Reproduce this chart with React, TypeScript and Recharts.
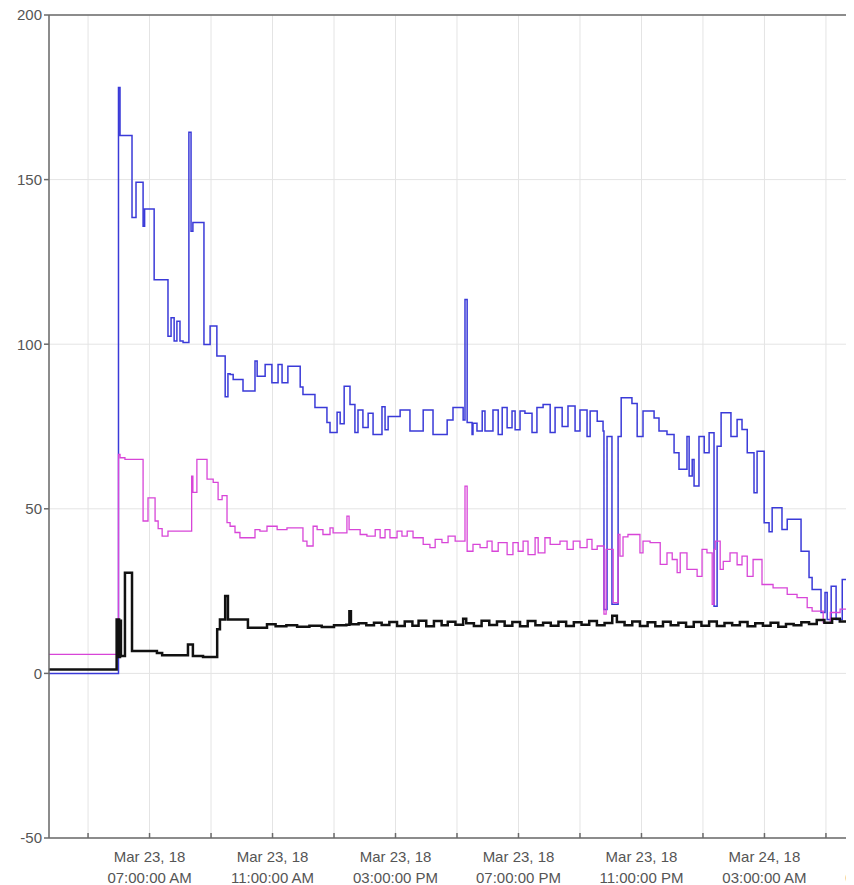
import React from 'react';
import { LineChart, Line, XAxis, YAxis, CartesianGrid } from 'recharts';

// time in hours since Mar 23, 2018 00:00
const blueT = [3.73, 5.99, 6.04, 6.43, 6.56, 6.79, 6.84, 7.15, 7.60, 7.70, 7.80, 7.89, 7.99, 8.09, 8.28, 8.35, 8.41, 8.77, 8.97, 9.19, 9.46, 9.55, 9.62, 9.72, 10.04, 10.43, 10.50, 10.76, 10.98, 11.18, 11.31, 11.50, 11.90, 11.99, 12.38, 12.77, 12.87, 13.10, 13.20, 13.33, 13.52, 13.68, 13.78, 13.94, 14.11, 14.27, 14.56, 14.66, 14.76, 15.15, 15.47, 15.90, 16.22, 16.68, 16.87, 17.20, 17.26, 17.33, 17.49, 17.52, 17.65, 17.82, 17.91, 18.17, 18.34, 18.47, 18.63, 18.79, 18.89, 19.05, 19.21, 19.44, 19.60, 19.80, 20.03, 20.19, 20.42, 20.61, 20.84, 21.00, 21.23, 21.33, 21.56, 21.75, 21.78, 21.88, 22.04, 22.24, 22.34, 22.69, 22.86, 23.05, 23.41, 23.57, 23.83, 24.06, 24.22, 24.48, 24.55, 24.65, 24.71, 24.87, 25.04, 25.20, 25.36, 25.46, 25.59, 25.91, 26.11, 26.27, 26.44, 26.66, 26.76, 26.99, 27.15, 27.25, 27.57, 27.74, 28.19, 28.45, 28.55, 28.84, 28.97, 29.04, 29.17, 29.33, 29.53, 29.69, 31.0];
const blueV = [0, 178, 163.4, 138.5, 149.2, 135.8, 141.1, 119.6, 102.4, 108, 101, 107, 101, 100.5, 164.4, 134.3, 137, 99.9, 105.5, 96.4, 84, 91, 90.8, 89.3, 85.8, 94.9, 90.3, 93.8, 88.3, 93.8, 88.3, 93.3, 87, 84.7, 80.8, 76.2, 73.2, 79.3, 75.8, 87.2, 81.7, 73.2, 80, 74.7, 79, 72.6, 81, 74, 78, 80, 73.6, 80, 72.6, 77, 80.8, 77, 113.6, 76.2, 72.6, 76, 73.6, 79.7, 73.6, 80, 72.6, 80.8, 74.6, 79.7, 74, 79.7, 79, 73.2, 80.8, 81.7, 73.2, 80.8, 75, 81.2, 73.6, 80, 72, 79.7, 76.6, 73.6, 19.4, 72, 21, 72, 83.7, 82, 72, 79.7, 77.6, 73.6, 72.6, 67, 62, 72, 60, 65, 56.9, 72, 67, 73.1, 20.4, 69, 79.2, 72, 77.1, 74.1, 67, 54.9, 67.5, 45.8, 43, 50.3, 43.7, 46.8, 37.1, 29.1, 25.5, 18.5, 24.6, 16.4, 26.5, 16.4, 28.5, 17.6, 17.6];

const magentaT = [3.73, 5.99, 6.04, 6.20, 6.79, 6.95, 7.18, 7.28, 7.41, 7.60, 8.37, 8.41, 8.54, 8.87, 9.07, 9.23, 9.36, 9.52, 9.62, 9.78, 9.94, 10.43, 10.59, 10.82, 11.15, 11.47, 11.99, 12.12, 12.32, 12.45, 12.64, 12.87, 12.97, 13.42, 13.49, 13.85, 14.07, 14.34, 14.50, 14.66, 14.82, 15.05, 15.21, 15.38, 15.57, 15.90, 16.12, 16.29, 16.51, 16.71, 16.94, 17.26, 17.33, 17.52, 17.75, 17.98, 18.14, 18.34, 18.63, 18.82, 18.99, 19.15, 19.31, 19.54, 19.64, 19.86, 20.03, 20.35, 20.58, 20.78, 21.00, 21.23, 21.39, 21.56, 21.78, 21.85, 22.08, 22.24, 22.30, 22.40, 22.56, 22.95, 23.05, 23.28, 23.61, 23.83, 24.00, 24.16, 24.26, 24.48, 24.81, 24.97, 25.13, 25.30, 25.36, 25.40, 25.56, 25.66, 25.88, 26.11, 26.27, 26.44, 26.63, 26.92, 27.28, 27.74, 28.06, 28.39, 28.55, 28.91, 29.14, 29.46, 29.69, 31.0];
const magentaV = [5.8, 66.5, 65.5, 65, 46.3, 53.3, 46.3, 44, 41.7, 43.2, 59.9, 55, 65, 59, 58, 52.8, 54, 45.8, 44.7, 42.8, 41.2, 43.7, 43.2, 44.7, 43.7, 44.2, 40.2, 38.7, 44.7, 43.7, 42.2, 44.2, 42.7, 47.8, 43.7, 42.2, 41.7, 43.7, 41.2, 43.7, 41.2, 43.2, 41.7, 43.2, 41.2, 39.2, 38.2, 40.7, 39.7, 41.7, 40.2, 56.9, 37.1, 39.2, 38.2, 40.2, 37.1, 39.7, 36.1, 39.7, 37.1, 40.2, 36.1, 41.2, 36.6, 41.2, 39.2, 40.2, 37.7, 40.2, 38.2, 40.7, 37.7, 38.7, 18, 37.7, 21.5, 42.2, 35.6, 41.5, 42.2, 36.6, 40.2, 39.7, 33.1, 36.6, 34.6, 30.6, 36.6, 31.6, 29.5, 37.7, 36.6, 21, 37.7, 40.2, 31.6, 34, 36.6, 33, 35.6, 29.5, 34.6, 27, 26, 24, 23, 20, 18.9, 15.4, 18.5, 19.5, 17, 17];

const blackT = [3.73, 5.93, 6.01, 6.04, 6.07, 6.20, 6.43, 7.24, 7.41, 8.25, 8.41, 8.74, 9.20, 9.29, 9.46, 9.55, 10.20, 10.82, 11.10, 11.45, 11.80, 12.20, 12.60, 13.00, 13.40, 13.50, 13.55, 13.80, 14.05, 14.30, 14.55, 14.80, 15.05, 15.30, 15.55, 15.75, 16.00, 16.25, 16.50, 16.70, 16.95, 17.20, 17.30, 17.55, 17.80, 18.05, 18.30, 18.55, 18.80, 19.05, 19.30, 19.55, 19.80, 20.05, 20.30, 20.55, 20.80, 21.05, 21.30, 21.55, 21.80, 22.05, 22.20, 22.45, 22.70, 22.95, 23.20, 23.45, 23.70, 23.95, 24.20, 24.45, 24.70, 24.95, 25.20, 25.45, 25.70, 25.95, 26.20, 26.45, 26.70, 26.95, 27.20, 27.45, 27.70, 27.95, 28.20, 28.45, 28.70, 28.95, 29.20, 29.45, 29.70, 31.0];
const blackV = [1.2, 16.4, 5, 16, 5.3, 30.6, 6.8, 6.2, 5.5, 8.8, 5.3, 5, 13.4, 16.4, 23.5, 16.4, 13.9, 14.9, 14.3, 14.6, 14.2, 14.5, 14.1, 14.6, 14.8, 18.9, 14.9, 15.2, 14.6, 15.4, 14.7, 15.6, 14.4, 15.8, 14.5, 16.0, 14.3, 15.9, 14.6, 15.7, 14.8, 16.6, 15.2, 14.4, 16.0, 14.7, 15.8, 14.5, 15.6, 14.3, 15.9, 14.6, 15.4, 14.5, 15.7, 14.4, 15.5, 14.8, 15.9, 14.6, 15.3, 17.5, 15.6, 14.6, 15.8, 14.4, 15.5, 14.3, 15.7, 14.6, 15.4, 14.2, 15.6, 14.5, 15.8, 14.4, 15.3, 14.6, 15.6, 14.3, 15.2, 14.5, 15.4, 14.2, 15.0, 14.6, 15.5, 15.0, 16.2, 15.4, 16.6, 15.8, 16.4, 16.4];

const yTicks = [-50, 0, 50, 100, 150, 200];
const gridHours = [5, 7, 9, 11, 13, 15, 17, 19, 21, 23, 25, 27, 29, 31, 33];
const labelHours = [7, 11, 15, 19, 23, 27, 31];
const labelDates = ['Mar 23, 18', 'Mar 23, 18', 'Mar 23, 18', 'Mar 23, 18', 'Mar 23, 18', 'Mar 24, 18', 'Mar 24, 18'];
const labelTimes = ['07:00:00 AM', '11:00:00 AM', '03:00:00 PM', '07:00:00 PM', '11:00:00 PM', '03:00:00 AM', '07:00:00 AM'];

const toRows = (t: number[], v: number[]) => t.map((tt, i) => ({ t: tt, v: v[i] }));
const blueData = toRows(blueT, blueV);
const magentaData = toRows(magentaT, magentaV);
const blackData = toRows(blackT, blackV);

const FONT = '"Liberation Sans", Arial, sans-serif';
const AXIS = '#6a6a6a';
const X_DOMAIN: [number, number] = [3.73, 33.49];

const XTick = (props: any) => {
  const { x, y, payload } = props;
  const i = labelHours.indexOf(payload.value);
  if (i < 0) return <g />;
  return (
    <text textAnchor="middle" fill="#555" fontSize={15} fontFamily={FONT}>
      <tspan x={x} y={y + 24}>{labelDates[i]}</tspan>
      <tspan x={x} y={y + 45}>{labelTimes[i]}</tspan>
    </text>
  );
};

export default function App() {
  return (
    <div style={{ width: 846, height: 877, overflow: 'hidden', background: '#fff' }}>
      <LineChart width={956} height={877} margin={{ top: 6, right: 0, bottom: 0, left: 0 }}>
        <CartesianGrid stroke="#e4e4e4" strokeWidth={1} />
        <XAxis
          dataKey="t"
          type="number"
          domain={X_DOMAIN}
          allowDataOverflow
          ticks={gridHours}
          interval={0}
          height={47}
          tickSize={-5}
          tickMargin={5}
          tick={<XTick />}
          axisLine={{ stroke: AXIS, strokeWidth: 1.5 }}
          tickLine={{ stroke: AXIS, strokeWidth: 1.5 }}
        />
        <XAxis
          xAxisId="top"
          orientation="top"
          dataKey="t"
          type="number"
          domain={X_DOMAIN}
          allowDataOverflow
          ticks={gridHours}
          interval={0}
          height={1}
          tick={false}
          tickSize={-5}
          axisLine={{ stroke: AXIS, strokeWidth: 1.5 }}
          tickLine={{ stroke: AXIS, strokeWidth: 1.5 }}
        />
        <YAxis
          type="number"
          domain={[-50, 200]}
          ticks={yTicks}
          interval={0}
          width={41}
          tickSize={5}
          tick={{ fill: '#555', fontSize: 15, fontFamily: FONT }}
          axisLine={{ stroke: AXIS, strokeWidth: 1.5 }}
          tickLine={{ stroke: AXIS, strokeWidth: 1.5 }}
        />
        <Line data={blueData} dataKey="v" type="stepAfter" stroke="#3a3ad8" strokeWidth={1.5} dot={false} isAnimationActive={false} />
        <Line data={magentaData} dataKey="v" type="stepAfter" stroke="#d845d8" strokeWidth={1.3} dot={false} isAnimationActive={false} />
        <Line data={blackData} dataKey="v" type="stepAfter" stroke="#111" strokeWidth={2.5} dot={false} isAnimationActive={false} />
        <Line xAxisId="top" data={blackData} dataKey="v" stroke="none" strokeWidth={0} dot={false} activeDot={false} legendType="none" isAnimationActive={false} />
      </LineChart>
    </div>
  );
}
